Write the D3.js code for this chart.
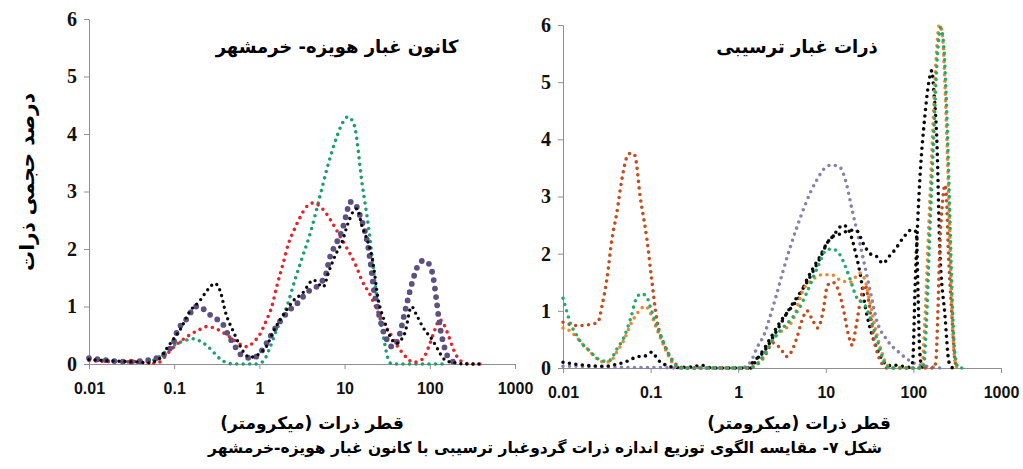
<!DOCTYPE html>
<html>
<head>
<meta charset="utf-8">
<script src="https://cdn.jsdelivr.net/npm/d3@7"></script>
<style>
  body { margin: 0; background: #fff; }
  svg { display: block; }
</style>
</head>
<body>
<svg width="1023" height="469"></svg>
<script>
// x ticks (particle diameter, micrometre) and y ticks (volume %)
const xTicks = [0.01, 0.1, 1, 10, 100, 1000];
const xTickLabels = ["0.01", "0.1", "1", "10", "100", "1000"];
const yTicks = [0, 1, 2, 3, 4, 5, 6];

const leftTitle = "کانون غبار هویزه- خرمشهر";
const rightTitle = "ذرات غبار ترسیبی";
const xTitle = "قطر ذرات (میکرومتر)";
const yTitle = "درصد حجمی ذرات";
const caption = "شکل ۷- مقایسه الگوی توزیع اندازه ذرات گردوغبار ترسیبی با کانون غبار هویزه-خرمشهر";

// left panel: [diameter, volume %]
const leftGreen = [[0.01,0.08],[0.015,0.06],[0.02,0.05],[0.03,0.04],[0.04,0.04],[0.05,0.05],[0.06,0.08],[0.07,0.15],[0.08,0.22],[0.1,0.33],[0.13,0.4],[0.166,0.44],[0.2,0.4],[0.25,0.3],[0.3,0.18],[0.35,0.08],[0.42,0.02],[0.5,0],[0.7,0],[0.9,0],[1.1,0.04],[1.3,0.25],[1.6,0.6],[2.1,1.0],[2.6,1.45],[3.2,1.86],[4,2.3],[5.1,2.9],[6.3,3.43],[8.1,3.95],[9.5,4.2],[11,4.3],[13,4.15],[16,3.15],[19.5,2.28],[23,1.35],[26,0.8],[29,0.42],[31,0.2],[33,0.05],[36,0],[60,0],[100,0],[150,0]];
const leftRed = [[0.01,0.06],[0.02,0.04],[0.03,0.04],[0.04,0.05],[0.05,0.03],[0.06,0.01],[0.07,0.05],[0.08,0.15],[0.1,0.3],[0.12,0.4],[0.15,0.5],[0.2,0.6],[0.24,0.65],[0.3,0.62],[0.4,0.52],[0.5,0.42],[0.6,0.34],[0.73,0.3],[0.85,0.38],[1,0.5],[1.2,0.75],[1.4,1.0],[1.6,1.35],[1.9,1.75],[2.2,2.1],[2.5,2.3],[3,2.55],[3.5,2.72],[4.3,2.8],[5.5,2.7],[7.2,2.45],[9,2.2],[10.5,2.03],[13.7,1.7],[16,1.45],[19.5,1.23],[25,0.88],[30,0.65],[34,0.54],[40,0.35],[48,0.19],[56,0.08],[63,0.03],[75,0.05],[88,0.15],[100,0.35],[115,0.6],[130,0.77],[145,0.7],[165,0.5],[190,0.25],[220,0.08],[260,0.02],[300,0],[400,0]];
const leftPurple = [[0.01,0.1],[0.015,0.07],[0.02,0.05],[0.03,0.04],[0.04,0.05],[0.05,0.07],[0.06,0.1],[0.07,0.12],[0.08,0.2],[0.1,0.4],[0.11,0.6],[0.13,0.72],[0.15,0.85],[0.175,1.0],[0.2,1.0],[0.24,0.9],[0.3,0.8],[0.37,0.7],[0.45,0.45],[0.5,0.35],[0.57,0.2],[0.7,0.12],[0.8,0.1],[0.9,0.12],[1,0.18],[1.2,0.35],[1.5,0.6],[2,0.85],[2.5,1.0],[3,1.1],[3.6,1.25],[4.3,1.3],[5.1,1.4],[6,1.55],[6.7,1.85],[8,2.1],[9.2,2.3],[10.5,2.6],[11.5,2.82],[13,2.8],[15,2.6],[18,2.2],[20,1.8],[22,1.3],[25,0.9],[28,0.6],[32,0.4],[36,0.3],[40,0.35],[45,0.55],[50,0.85],[58,1.25],[66,1.55],[75,1.75],[85,1.8],[100,1.72],[110,1.5],[120,1.1],[130,0.7],[145,0.35],[160,0.15],[180,0.06],[200,0.02]];
const leftBlack = [[0.01,0.08],[0.015,0.06],[0.02,0.05],[0.03,0.04],[0.04,0.03],[0.05,0.02],[0.06,0.05],[0.07,0.12],[0.08,0.25],[0.1,0.45],[0.12,0.62],[0.15,0.9],[0.2,1.1],[0.25,1.3],[0.3,1.4],[0.35,1.25],[0.4,0.9],[0.5,0.55],[0.6,0.3],[0.7,0.15],[0.8,0.12],[1,0.18],[1.2,0.3],[1.5,0.6],[2,0.9],[2.5,1.1],[3.2,1.23],[4.3,1.46],[5.6,1.34],[6.5,1.6],[8,1.93],[9.2,2.1],[11,2.45],[12.6,2.65],[14,2.7],[16,2.4],[18,2.2],[21,1.86],[25,1.1],[29,0.77],[36,0.42],[41,0.36],[46,0.42],[51,0.54],[61,1.0],[70,0.85],[83,0.64],[107,0.42],[125,0.25],[140,0.12],[160,0.05],[200,0.02],[250,0],[400,0]];

// right panel: [diameter, volume %]
const rightPurple = [[0.01,0.03],[0.015,0.03],[0.02,0.02],[0.03,0.02],[0.05,0.01],[0.1,0.01],[0.2,0],[1,0],[1.2,0.02],[1.4,0.12],[1.66,0.37],[2,0.6],[2.3,0.89],[2.7,1.25],[3.2,1.66],[3.9,2.1],[4.7,2.47],[5.8,2.85],[6.8,3.1],[7.9,3.29],[9.5,3.48],[11.7,3.55],[14.5,3.51],[17,3.25],[20,2.76],[23,2.36],[26.5,1.94],[32,1.36],[38,0.84],[50,0.49],[70,0.26],[100,0.09],[130,0.04],[160,0.02],[200,0]];
const rightBlack2 = [[1.4,0],[2,0.35],[2.5,0.6],[3,0.8],[4,1.05],[5,1.25],[6.1,1.55],[7.5,1.8],[8.6,1.95],[10,2.15],[12,2.3],[15,2.35],[19,2.41],[22.6,2.4],[26.5,2.19],[32,2.0],[38,1.95],[45,1.83],[52,1.94],[61,2.06],[76,2.27],[96,2.42],[108,2.38],[113,1.3],[118,0.3],[125,0.02],[140,0]];
const rightBlack1 = [[0.01,0.1],[0.012,0.08],[0.015,0.06],[0.02,0.04],[0.03,0.03],[0.04,0.06],[0.05,0.1],[0.06,0.15],[0.07,0.2],[0.08,0.2],[0.09,0.22],[0.104,0.28],[0.12,0.15],[0.15,0.05],[0.2,0.01],[0.3,0.02],[0.38,0.05],[0.45,0.01],[0.6,0],[1,0],[1.3,0],[1.47,0.1],[2,0.3],[2.5,0.54],[3,0.75],[3.9,1.05],[5,1.3],[6.1,1.5],[7.5,1.75],[8.6,1.92],[10.5,2.2],[12,2.3],[15.8,2.5],[19,2.35],[22,2.0],[25,1.6],[28,1.1],[32,0.7],[38,0.35],[45,0.12],[52,0.04],[60,0.05],[75,0.03],[90,0.01],[98,0.1],[105,1.5],[118,3.25],[135,4.4],[150,5.0],[162,5.2],[172,4.8],[186,3.9],[200,2.1],[229,0.93],[255,0.1],[280,0]];
const rightRust = [[0.01,0.8],[0.012,0.76],[0.015,0.74],[0.02,0.76],[0.025,0.8],[0.028,1.1],[0.032,1.6],[0.036,2.23],[0.041,2.7],[0.047,3.3],[0.054,3.7],[0.06,3.76],[0.066,3.72],[0.076,3.0],[0.091,2.24],[0.103,1.54],[0.118,0.84],[0.14,0.44],[0.167,0.2],[0.2,0.05],[0.25,0],[0.5,0],[1,0],[1.3,0],[1.6,0.05],[2,0.2],[2.5,0.44],[3,0.35],[3.6,0.2],[4.1,0.3],[4.7,0.54],[5.4,0.85],[6.1,1.0],[7,0.85],[8.1,0.7],[9.2,0.95],[10.5,1.45],[12,1.5],[14,1.35],[16,1.0],[18,0.6],[20,0.4],[22,0.7],[25,1.2],[28,1.45],[31,1.15],[35,0.55],[40,0.2],[45,0.05],[50,0],[100,0],[170,0],[180,0.1],[190,0.93],[200,2.1],[215,2.9],[229,3.2],[240,2.9],[250,2.1],[275,0.93],[300,0.1],[320,0]];
const rightOrange = [[0.01,0.7],[0.012,0.65],[0.014,0.55],[0.016,0.45],[0.02,0.3],[0.025,0.15],[0.03,0.1],[0.035,0.12],[0.04,0.25],[0.05,0.5],[0.06,0.78],[0.07,0.95],[0.087,1.08],[0.1,0.95],[0.12,0.65],[0.15,0.3],[0.18,0.08],[0.22,0],[0.5,0],[1,0],[1.3,0],[1.6,0.06],[2,0.22],[2.5,0.5],[3,0.62],[4.2,0.84],[5.5,1.36],[7,1.54],[9.1,1.63],[11.7,1.63],[14.5,1.54],[19,1.5],[24.5,1.66],[28,1.54],[32,1.14],[38,0.6],[44,0.26],[50,0.05],[60,0],[100,0],[125,0],[135,0.8],[150,2.5],[165,4.0],[180,5.3],[198,6.0],[215,5.8],[235,4.5],[255,2.8],[275,1.0],[290,0.3],[310,0.02],[350,0]];
const rightGreen = [[0.01,1.22],[0.011,1.0],[0.012,0.8],[0.014,0.6],[0.016,0.45],[0.02,0.3],[0.025,0.16],[0.03,0.12],[0.035,0.14],[0.04,0.3],[0.05,0.55],[0.06,0.9],[0.068,1.2],[0.078,1.3],[0.09,1.25],[0.1,1.05],[0.12,0.7],[0.15,0.35],[0.18,0.1],[0.22,0],[0.5,0],[1,0],[1.5,0.02],[2,0.25],[2.5,0.5],[3,0.65],[4,0.85],[5,1.05],[6,1.3],[8,1.75],[10.3,2.07],[12,2.08],[14.5,1.98],[18,1.65],[22.6,1.23],[28,1.1],[35,0.7],[42,0.3],[46,0.1],[52,0.01],[60,0],[100,0],[130,0],[140,0.7],[155,2.5],[170,4.0],[185,5.3],[205,5.95],[220,5.7],[240,4.5],[260,2.7],[280,1.0],[300,0.2],[330,0],[400,0]];

const svg = d3.select("svg");
const arabicFont = "'DejaVu Sans', sans-serif";

const panels = [
  {
    left: 89, right: 515, top: 19, bottom: 364, title: leftTitle, titleX: 337, xTitleX: 312,
    series: [
      {data: leftGreen, color: "#1e9e6c", w: 3.6, gap: 6.5},
      {data: leftRed, color: "#e3232d", w: 3.6, gap: 6.5},
      {data: leftPurple, color: "#5d5180", w: 5.8, gap: 8.5},
      {data: leftBlack, color: "#0a0a0a", w: 3.4, gap: 6},
    ]
  },
  {
    left: 563, right: 1001, top: 25, bottom: 368, title: rightTitle, titleX: 797, xTitleX: 799,
    series: [
      {data: rightPurple, color: "#8a80ad", w: 3.6, gap: 6.5},
      {data: rightBlack2, color: "#0a0a0a", w: 3.6, gap: 6.5},
      {data: rightBlack1, color: "#0a0a0a", w: 3.6, gap: 6.5},
      {data: rightRust, color: "#c24d1f", w: 3.6, gap: 6.5},
      {data: rightOrange, color: "#f2862c", w: 3.6, gap: 6.5},
      {data: rightGreen, color: "#27a86c", w: 3.6, gap: 6.5},
    ]
  }
];

panels.forEach(p => {
  const x = d3.scaleLog().domain([0.01, 1000]).range([p.left, p.right]);
  const y = d3.scaleLinear().domain([0, 6]).range([p.bottom, p.top]);

  const gx = svg.append("g")
    .attr("transform", `translate(0,${p.bottom})`)
    .call(d3.axisBottom(x).tickValues(xTicks).tickSize(5).tickSizeOuter(0)
      .tickFormat((d, i) => xTickLabels[i]));
  gx.selectAll("text")
    .attr("y", 19)
    .style("font-family", "'Liberation Sans', Arial, sans-serif")
    .style("font-weight", "bold")
    .style("font-size", "16px")
    .style("fill", "#111");

  const gy = svg.append("g")
    .attr("transform", `translate(${p.left},0)`)
    .call(d3.axisLeft(y).tickValues(yTicks).tickSize(5).tickSizeOuter(0)
      .tickFormat(d3.format("d")));
  gy.selectAll("text")
    .attr("x", -12)
    .style("font-family", "'Liberation Serif', 'Times New Roman', serif")
    .style("font-weight", "bold")
    .style("font-size", "20px")
    .style("fill", "#111");

  svg.selectAll("g .domain, g .tick line").attr("stroke", "#8f8f8f");

  const line = d3.line()
    .x(d => x(d[0]))
    .y(d => y(d[1]))
    .curve(d3.curveMonotoneX);

  p.series.forEach(s => {
    svg.append("path")
      .datum(s.data)
      .attr("d", line)
      .attr("fill", "none")
      .attr("stroke", s.color)
      .attr("stroke-width", s.w)
      .attr("stroke-linecap", "round")
      .attr("stroke-dasharray", `0 ${s.gap}`);
  });

  svg.append("text")
    .attr("x", p.titleX)
    .attr("y", 53)
    .attr("text-anchor", "middle")
    .attr("direction", "rtl")
    .style("font-family", arabicFont)
    .style("font-weight", "bold")
    .style("font-size", "18px")
    .text(p.title);

  svg.append("text")
    .attr("x", p.xTitleX)
    .attr("y", 429)
    .attr("text-anchor", "middle")
    .attr("direction", "rtl")
    .style("font-family", arabicFont)
    .style("font-weight", "bold")
    .style("font-size", "17px")
    .text(xTitle);
});

svg.append("text")
  .attr("transform", "translate(27,182) rotate(-90)")
  .attr("text-anchor", "middle")
  .attr("dominant-baseline", "central")
  .attr("direction", "rtl")
  .style("font-family", arabicFont)
  .style("font-weight", "bold")
  .style("font-size", "20px")
  .text(yTitle);

svg.append("text")
  .attr("x", 545)
  .attr("y", 453)
  .attr("text-anchor", "middle")
  .attr("direction", "rtl")
  .style("font-family", arabicFont)
  .style("font-weight", "bold")
  .style("font-size", "15.5px")
  .text(caption);
</script>
</body>
</html>
